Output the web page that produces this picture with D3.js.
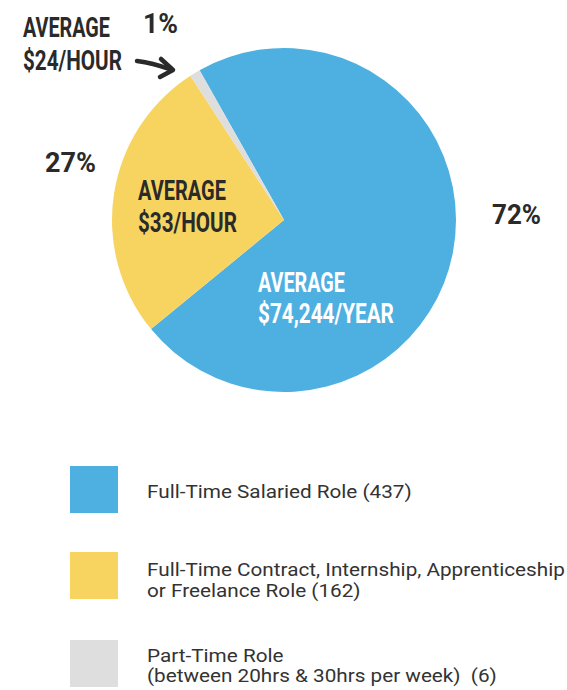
<!DOCTYPE html>
<html>
<head>
<meta charset="utf-8">
<script src="https://cdn.jsdelivr.net/npm/d3@7"></script>
<style>
  html, body { margin: 0; padding: 0; background: #fff; }
  svg { display: block; }
</style>
</head>
<body>
<svg id="chart" width="567" height="690"></svg>
<script>
// Employment type breakdown
const categories = [
  "Full-Time Salaried Role",
  "Full-Time Contract, Internship, Apprenticeship or Freelance Role",
  "Part-Time Role"
];
const counts = [437, 162, 6];
const percentLabels = ["72%", "27%", "1%"];
const averageLabels = ["$74,244/YEAR", "$33/HOUR", "$24/HOUR"];
const legendLines = [
  ["Full-Time Salaried Role (437)"],
  ["Full-Time Contract, Internship, Apprenticeship", "or Freelance Role (162)"],
  ["Part-Time Role", "(between 20hrs & 30hrs per week)  (6)"]
];
const colors = ["#4eb0e1", "#f7d45f", "#dedede"];

const svg = d3.select("#chart");
const cx = 284, cy = 220, radius = 172;

const startDeg = -29.4;
const pie = d3.pie()
  .sort(null)
  .value(d => d)
  .startAngle(startDeg * Math.PI / 180)
  .endAngle(startDeg * Math.PI / 180 + 2 * Math.PI);

const arc = d3.arc().innerRadius(0).outerRadius(radius);
const color = d3.scaleOrdinal().domain(d3.range(categories.length)).range(colors);

const g = svg.append("g").attr("transform", `translate(${cx},${cy})`);
g.selectAll("path")
  .data(pie(counts))
  .join("path")
  .attr("d", arc)
  .attr("fill", (d, i) => color(i));

// Condensed display labels: set in Roboto bold, squeezed horizontally to width
const dark = "#2a2a2a";
function headText(x, y, txt, width, fill) {
  const t = svg.append("text")
    .attr("x", 0).attr("y", 0)
    .attr("font-family", "Roboto, 'Liberation Sans', sans-serif")
    .attr("font-weight", 700)
    .attr("font-size", 28)
    .attr("fill", fill)
    .text(txt);
  const len = t.node().getComputedTextLength();
  t.attr("transform", `translate(${x},${y}) scale(${width / len},1)`);
}

// Part-time callout
headText(23, 37, "AVERAGE", 87, dark);
headText(23, 70, averageLabels[2], 99, dark);
headText(143, 33, percentLabels[2], 35, dark);

// Contract slice
headText(45, 172, percentLabels[1], 51, dark);
headText(138, 200, "AVERAGE", 88, dark);
headText(138, 232, averageLabels[1], 99, dark);

// Salaried slice
headText(258, 292, "AVERAGE", 87, "#ffffff");
headText(258, 323, averageLabels[0], 136, "#ffffff");
headText(492, 224, percentLabels[0], 49, dark);

// Arrow pointing at the part-time slice
svg.append("path")
  .attr("d", "M137,61 Q153,63 169,69")
  .attr("fill", "none")
  .attr("stroke", dark)
  .attr("stroke-width", 4.5)
  .attr("stroke-linecap", "round");
svg.append("path")
  .attr("d", "M161,59 L173,70 L160,77")
  .attr("fill", "none")
  .attr("stroke", dark)
  .attr("stroke-width", 4.5)
  .attr("stroke-linecap", "round")
  .attr("stroke-linejoin", "round");

// Legend
const legendY = [466, 552, 640];
const legendBase = [[498], [576, 597], [662, 682]];
const legend = svg.append("g");
categories.forEach((c, i) => {
  legend.append("rect")
    .attr("x", 70).attr("y", legendY[i])
    .attr("width", 48).attr("height", 47)
    .attr("fill", color(i));
  legendLines[i].forEach((ln, j) => {
    legend.append("text")
      .attr("transform", `translate(147,${legendBase[i][j]}) scale(1.12,1)`)
      .attr("font-family", "Roboto, 'Noto Sans', sans-serif")
      .attr("font-size", 18.5)
      .attr("fill", "#333")
      .style("white-space", "pre")
      .text(ln);
  });
});
</script>
</body>
</html>
